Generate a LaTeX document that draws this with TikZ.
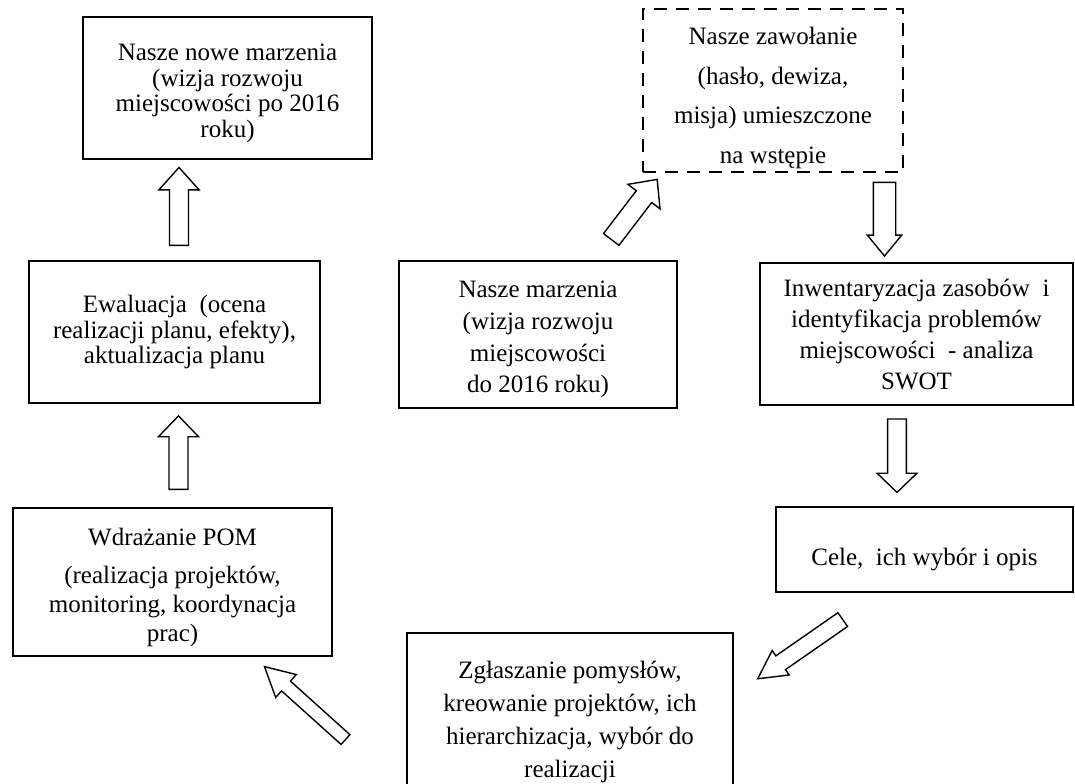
\documentclass[tikz,border=0pt]{standalone}
\usepackage{fontspec}
\setmainfont{Liberation Serif}
\usetikzlibrary{shapes.arrows}
\newcommand{\boxfont}[1]{\fontsize{12.5pt}{#1}\selectfont}
\newcommand{\topgap}[1]{\rule{0pt}{#1}}

\begin{document}
\begin{tikzpicture}[x=0.5pt,y=-0.5pt,
		box/.style = {draw, line width=1pt, align=center, inner sep=2pt},
		blockarrow/.style = {single arrow, draw, line width=0.7pt, fill=white, inner xsep=0pt, anchor=tail}]
		\fill[white] (0,0) rectangle (1075,783);
		\useasboundingbox (0,0) rectangle (1075,783);
		%%%%%%%%%%%%%
		\node[box, minimum width=144.5pt, minimum height=71pt, font=\boxfont{12.8pt}] (nowe) at (227.5,88) {\topgap{13.7pt}Nasze nowe marzenia\\(wizja rozwoju\\miejscowości po 2016\\roku)};
		\node[box, minimum width=145.5pt, minimum height=71pt, font=\boxfont{12.6pt}] (ewal) at (174.5,332) {Ewaluacja\ \ (ocena\\realizacji planu, efekty),\\aktualizacja planu};
		\node[box, minimum width=159.5pt, minimum height=74pt, font=\boxfont{14.5pt}] (wdr) at (172.5,582) {\topgap{14.5pt}Wdrażanie POM\\[4.5pt](realizacja projektów,\\monitoring, koordynacja\\prac)};
		\node[box, minimum width=139pt, minimum height=73.5pt, font=\boxfont{15.8pt}] (marz) at (538,334.5) {\topgap{13.5pt}Nasze marzenia\\(wizja rozwoju\\miejscowości\\do 2016 roku)};
		\node[box, dash pattern=on 6.5pt off 4.5pt, minimum width=130pt, minimum height=74.5pt, font=\boxfont{19.7pt}] (zaw) at (773,90.5) {\topgap{16.2pt}Nasze zawołanie\\(hasło, dewiza,\\misja) umieszczone\\na wstępie};
		\node[box, minimum width=156.5pt, minimum height=71pt, font=\boxfont{15.5pt}] (inw) at (916.5,334) {Inwentaryzacja zasobów\ \ i\\identyfikacja problemów\\miejscowości\ \ - analiza\\SWOT};
		\node[box, minimum width=148.5pt, minimum height=42.5pt, font=\boxfont{15pt}] (cele) at (924.5,549.5) {\topgap{18.5pt}Cele,\ \ ich wybór i opis};
		\node[box, minimum width=163pt, minimum height=86.7pt, font=\boxfont{16.6pt}] (zgl) at (570,719.7) {\topgap{11pt}Zgłaszanie pomysłów,\\kreowanie projektów, ich\\hierarchizacja, wybór do\\realizacji};
		%%%%%%%%%%%%%
		\node[blockarrow, rotate=90, minimum height=38.9pt, inner ysep=4.4pt, single arrow head extend=5.3pt, single arrow tip angle=84] (ewal-nowe) at (179,246) {};
		\node[blockarrow, rotate=90, minimum height=36.7pt, inner ysep=4.4pt, single arrow head extend=5.3pt, single arrow tip angle=88] (wdr-ewal) at (178.5,490) {};
		\node[blockarrow, rotate=52.6, minimum height=37.8pt, inner ysep=4.5pt, single arrow head extend=5.25pt, single arrow tip angle=86] (marz-zaw) at (610.8,240) {};
		\node[blockarrow, rotate=-90, minimum height=36.8pt, inner ysep=5.25pt, single arrow head extend=3pt, single arrow tip angle=79] (zaw-inw) at (884.5,181.7) {};
		\node[blockarrow, rotate=-90, minimum height=36.7pt, inner ysep=4.35pt, single arrow head extend=5.2pt, single arrow tip angle=92] (inw-cele) at (897,418.3) {};
		\node[blockarrow, rotate=214.8, minimum height=51.8pt, inner ysep=3.85pt, single arrow head extend=3.25pt, single arrow tip angle=56] (cele-zgl) at (843.3,619.2) {};
		\node[blockarrow, rotate=138, minimum height=54.5pt, inner ysep=2.95pt, single arrow head extend=4.4pt, single arrow tip angle=56] (zgl-wdr) at (346,740) {};
	\end{tikzpicture}
\end{document}
